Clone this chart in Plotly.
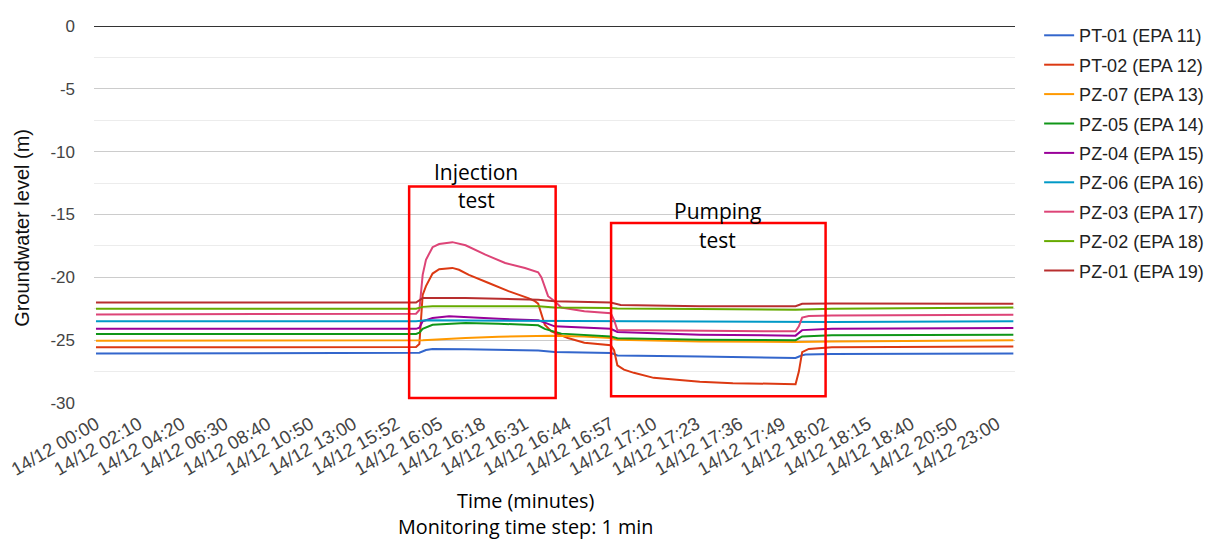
import plotly.graph_objects as go

DAY = "14/12"

# Category axis: sampling timeline (10-min before/after the tests, 1-min during)
TIME_SEGMENTS = [  # (start "HH:MM", step minutes, count)
    ("00:00", 10, 91),
    ("15:52", 1, 156),
    ("18:40", 10, 32),
]

TICK_TIMES = ["00:00", "02:10", "04:20", "06:30", "08:40", "10:50", "13:00",
              "15:52", "16:05", "16:18", "16:31", "16:44", "16:57", "17:10",
              "17:23", "17:36", "17:49", "18:02", "18:15", "18:40", "20:50",
              "23:00"]

Y_TICKS = [0, -5, -10, -15, -20, -25, -30]
Y_TICK_TEXT = ["0", "-5", "-10", "-15", "-20", "-25", "-30"]

NAMES = ["PT-01 (EPA 11)", "PT-02 (EPA 12)", "PZ-07 (EPA 13)", "PZ-05 (EPA 14)",
         "PZ-04 (EPA 15)", "PZ-06 (EPA 16)", "PZ-03 (EPA 17)", "PZ-02 (EPA 18)",
         "PZ-01 (EPA 19)"]
COLORS = ["#3366cc", "#dc3912", "#ff9900", "#109618", "#990099", "#0099c6",
          "#dd4477", "#66aa00", "#b82e2e"]

PT01_T = ["00:00", "15:58", "15:59", "16:01", "16:03", "16:13", "16:23", "16:35", "16:40",
          "16:57", "16:58", "16:59", "17:24", "17:53", "17:55", "17:56", "18:04", "23:50"]
PT01_V = [-26.07, -26.05, -26.0, -25.78, -25.7, -25.72, -25.76, -25.82, -25.94,
          -26.02, -26.1, -26.22, -26.3, -26.42, -26.2, -26.15, -26.1, -26.07]

PT02_T = ["00:00", "15:58", "15:59", "16:00", "16:01", "16:03", "16:05", "16:09", "16:11",
          "16:14", "16:20", "16:26", "16:32", "16:34", "16:35", "16:37", "16:39", "16:44",
          "16:49", "16:57", "16:58", "16:59", "17:01", "17:04", "17:10", "17:14", "17:24",
          "17:34", "17:53", "17:54", "17:55", "17:57", "18:04", "23:50"]
PT02_V = [-25.57, -25.55, -25.3, -21.4, -20.7, -19.7, -19.35, -19.25, -19.4,
          -19.8, -20.45, -21.1, -21.65, -21.9, -22.1, -23.77, -24.3, -24.83,
          -25.2, -25.4, -25.8, -27.0, -27.35, -27.6, -28.0, -28.1, -28.3,
          -28.42, -28.5, -27.5, -25.95, -25.7, -25.57, -25.5]

PZ07_T = ["00:00", "15:58", "16:00", "16:13", "16:23", "16:39", "16:49", "16:57", "16:59",
          "17:24", "17:53", "18:04", "23:50"]
PZ07_V = [-25.04, -25.04, -25.0, -24.83, -24.72, -24.65, -24.7, -24.83, -24.96,
          -25.1, -25.15, -25.1, -25.0]

PZ05_T = ["00:00", "15:58", "15:59", "16:00", "16:03", "16:13", "16:23", "16:35", "16:37",
          "16:40", "16:42", "16:57", "16:59", "17:24", "17:53", "17:55", "18:04", "23:50"]
PZ05_V = [-24.5, -24.5, -24.4, -24.1, -23.77, -23.64, -23.69, -23.82, -24.1,
          -24.35, -24.48, -24.7, -24.85, -24.96, -25.0, -24.7, -24.6, -24.56]

PZ04_T = ["00:00", "15:58", "15:59", "16:00", "16:03", "16:08", "16:23", "16:35", "16:37",
          "16:40", "16:57", "16:59", "17:24", "17:53", "17:55", "18:04", "23:50"]
PZ04_V = [-24.1, -24.1, -24.0, -23.5, -23.24, -23.1, -23.3, -23.42, -23.6,
          -23.9, -24.1, -24.35, -24.56, -24.64, -24.2, -24.1, -24.03]

PZ06_T = ["00:00", "15:58", "16:01", "16:23", "16:40", "16:57", "17:24", "17:53", "18:04", "23:50"]
PZ06_V = [-23.5, -23.5, -23.42, -23.45, -23.48, -23.45, -23.5, -23.56, -23.55, -23.5]

PZ03_T = ["00:00", "15:58", "15:59", "16:00", "16:01", "16:03", "16:05", "16:09", "16:13",
          "16:19", "16:25", "16:31", "16:35", "16:36", "16:38", "16:40", "16:42", "16:49",
          "16:57", "16:58", "16:59", "17:24", "17:53", "17:54", "17:55", "17:57", "18:04", "23:50"]
PZ03_V = [-22.95, -22.9, -22.6, -19.8, -18.6, -17.6, -17.35, -17.2, -17.45,
          -18.2, -18.86, -19.26, -19.6, -20.0, -21.5, -21.9, -22.4, -22.7,
          -22.85, -23.4, -24.2, -24.25, -24.3, -23.9, -23.2, -23.08, -23.03, -22.97]

PZ02_T = ["00:00", "15:58", "16:00", "16:03", "16:35", "16:40", "16:57", "16:59", "17:24",
          "17:53", "18:04", "23:50"]
PZ02_V = [-22.5, -22.5, -22.35, -22.3, -22.3, -22.4, -22.45, -22.48, -22.52,
          -22.57, -22.5, -22.4]

PZ01_T = ["00:00", "15:58", "16:00", "16:13", "16:35", "16:40", "16:57", "16:59", "17:00",
          "17:24", "17:53", "17:55", "18:04", "23:50"]
PZ01_V = [-22.0, -22.0, -21.65, -21.65, -21.78, -21.9, -22.0, -22.15, -22.2,
          -22.3, -22.3, -22.1, -22.08, -22.1]

SERIES_T = [PT01_T, PT02_T, PZ07_T, PZ05_T, PZ04_T, PZ06_T, PZ03_T, PZ02_T, PZ01_T]
SERIES_V = [PT01_V, PT02_V, PZ07_V, PZ05_V, PZ04_V, PZ06_V, PZ03_V, PZ02_V, PZ01_V]


def label(t):
    return f"{DAY} {t}"


categories = []
for start, step, count in TIME_SEGMENTS:
    h, m = map(int, start.split(":"))
    base = h * 60 + m
    for k in range(count):
        tot = base + k * step
        categories.append(label(f"{tot // 60:02d}:{tot % 60:02d}"))

fig = go.Figure()
for name, color, ts, vs in zip(NAMES, COLORS, SERIES_T, SERIES_V):
    fig.add_trace(go.Scatter(
        x=[label(t) for t in ts], y=vs, name=name, mode="lines",
        line=dict(color=color, width=2), legendgroup=name,
    ))

SANS = "Liberation Sans, Arial, sans-serif"
AX_FONT = dict(family=SANS, size=17, color="#444444")
XT_FONT = dict(family=SANS, size=18.5, color="#444444")
NOTE_FONT = dict(family="Open Sans, sans-serif", size=21, color="#000000")
TITLE_FONT = dict(family="Open Sans, sans-serif", size=19.8, color="#000000")

fig.update_layout(
    width=1208, height=541,
    margin=dict(l=94, r=193, t=26, b=138, autoexpand=False),
    paper_bgcolor="white", plot_bgcolor="white",
    showlegend=True,
    legend=dict(xref="container", yref="container", x=0.8602, xanchor="left",
                y=0.9684, yanchor="top", maxheight=520,
                font=dict(family=SANS, size=18, color="#222222"),
                tracegroupgap=3, bgcolor="rgba(0,0,0,0)"),
    xaxis=dict(
        type="category", categoryorder="array", categoryarray=categories,
        range=[-0.6, 278.5], showgrid=False, zeroline=False, showline=False,
        tickmode="array", tickvals=[label(t) for t in TICK_TIMES],
        ticktext=[label(t) for t in TICK_TIMES], tickangle=-30,
        ticks="", tickfont=XT_FONT, ticklabelstandoff=6,
    ),
    yaxis=dict(
        range=[-30, 0], tickmode="array", tickvals=Y_TICKS, ticktext=Y_TICK_TEXT,
        showgrid=True, gridcolor="#cccccc", gridwidth=1,
        zeroline=True, zerolinecolor="#333333", zerolinewidth=1,
        minor=dict(tickmode="linear", tick0=0, dtick=2.5, showgrid=True, gridcolor="#ececec"),
        showline=False, ticks="", tickfont=AX_FONT,
        ticklabelstandoff=18,
    ),
    shapes=[
        dict(type="rect", xref="x", yref="y", x0=94.9, x1=139.3, y0=-29.6, y1=-12.77,
             line=dict(color="#ff0000", width=2.5), fillcolor="rgba(0,0,0,0)"),
        dict(type="rect", xref="x", yref="y", x0=156.1, x1=221.1, y0=-29.47, y1=-15.68,
             line=dict(color="#ff0000", width=2.5), fillcolor="rgba(0,0,0,0)"),
    ],
    annotations=[
        dict(text="Injection", xref="x", yref="y", x=115.2, y=-11.6, showarrow=False,
             xanchor="center", yanchor="middle", font=NOTE_FONT),
        dict(text="test", xref="x", yref="y", x=115.2, y=-13.83, showarrow=False,
             xanchor="center", yanchor="middle", font=NOTE_FONT),
        dict(text="Pumping", xref="x", yref="y", x=188.2, y=-14.7, showarrow=False,
             xanchor="center", yanchor="middle", font=NOTE_FONT),
        dict(text="test", xref="x", yref="y", x=188.2, y=-17.0, showarrow=False,
             xanchor="center", yanchor="middle", font=NOTE_FONT),
        dict(text="Time (minutes)<br>Monitoring time step: 1 min", xref="paper", yref="paper",
             x=0.469, y=-0.292, showarrow=False, xanchor="center", yanchor="middle",
             font=TITLE_FONT),
        dict(text="Groundwater level (m)", xref="paper", yref="paper", x=-0.078, y=0.465,
             textangle=-90, showarrow=False, xanchor="center", yanchor="middle",
             font=dict(family=SANS, size=20, color="#111111")),
    ],
)

fig.write_html("out.html", post_script="document.body.style.margin='0px';",
               config={"displayModeBar": False})
